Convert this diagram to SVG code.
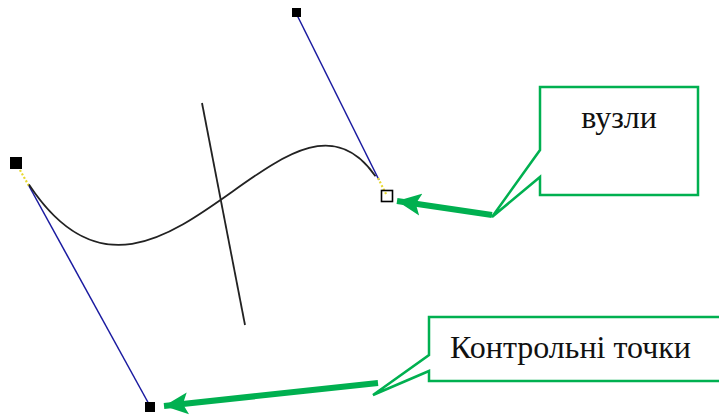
<svg xmlns="http://www.w3.org/2000/svg" width="719" height="416" viewBox="0 0 719 416">
<style>
.handle{stroke:#1a1aa0;stroke-width:1.5;fill:none}
.dot{stroke:#e8d830;stroke-width:2.2;stroke-dasharray:2 2;fill:none}
.curve{stroke:#222;stroke-width:1.8;fill:none}
.callout{fill:#fff;stroke:#00b050;stroke-width:2.5}
.arrow{stroke:#00b050;stroke-width:6;fill:none}
.lbl{font-family:"Liberation Serif","Times New Roman",serif;font-size:32px;fill:#111}
</style>
<defs>
<marker id="ah" markerUnits="userSpaceOnUse" markerWidth="26" markerHeight="26" viewBox="0 0 26 26" refX="24" refY="13" orient="auto">
<path d="M0,2 L24,13 L0,24 L5,13 Z" fill="#00b050"/>
</marker>
</defs>
<g id="connectors">
<line class="handle" x1="29" y1="186" x2="150" y2="406"/>
<line class="handle" x1="296" y1="13" x2="379" y2="180"/>
<line class="dot" x1="16" y1="163" x2="29" y2="186"/>
<line class="dot" x1="378" y1="178" x2="387" y2="196"/>
<path class="curve" d="M16,163 C150,406 296,13 387,196" pathLength="1000" stroke-dasharray="0 55 895 1000"/>
<line class="curve" x1="202" y1="103" x2="245" y2="325"/>
<line class="arrow" x1="492" y1="215" x2="397" y2="201" marker-end="url(#ah)"/>
<line class="arrow" x1="378" y1="383" x2="164" y2="406" marker-end="url(#ah)"/>
</g>
<g id="start-node"><rect x="10" y="157" width="12" height="12" fill="#000"/></g>
<g id="end-node"><rect x="381.5" y="190.5" width="11" height="11" fill="none" stroke="#000" stroke-width="1.6"/></g>
<g id="control-top"><rect x="292" y="8" width="9" height="9" fill="#000"/></g>
<g id="control-bottom"><rect x="145" y="402" width="10" height="10" fill="#000"/></g>
<g id="callout-nodes">
<polygon class="callout" points="540,87 698,87 698,195 540,195 540,177 492,217 540,150"/>
<text class="lbl" x="619" y="128" text-anchor="middle">вузли</text>
</g>
<g id="callout-controls">
<polygon class="callout" points="429,317 724,317 724,381 429,381 429,371 373,395 429,355"/>
<text class="lbl" x="450" y="358">Контрольні точки</text>
</g>
</svg>
